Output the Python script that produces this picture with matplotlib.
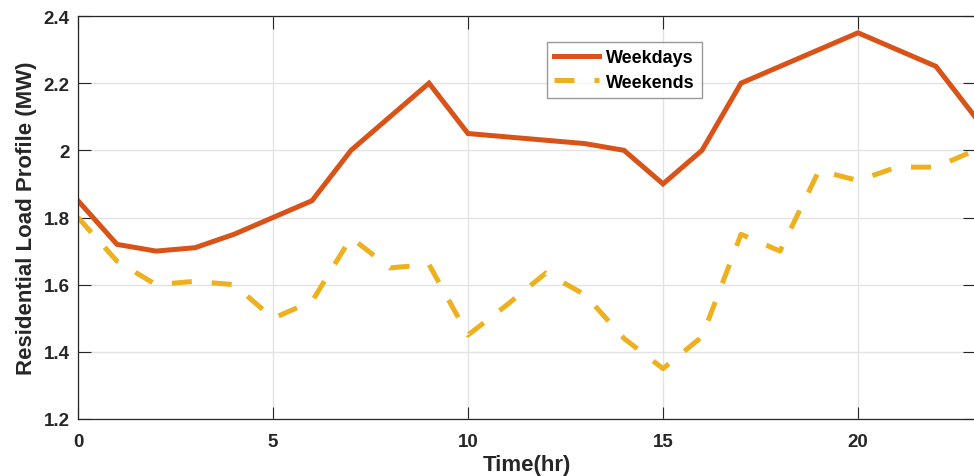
import matplotlib
matplotlib.use("Agg")
import matplotlib.pyplot as plt

hours = list(range(24))
weekdays = [1.85, 1.72, 1.70, 1.71, 1.75, 1.80, 1.85, 2.00, 2.10, 2.20, 2.05, 2.04,
            2.03, 2.02, 2.00, 1.90, 2.00, 2.20, 2.25, 2.30, 2.35, 2.30, 2.25, 2.10]
weekends = [1.80, 1.67, 1.60, 1.61, 1.60, 1.50, 1.55, 1.74, 1.65, 1.66, 1.45, 1.54,
            1.635, 1.57, 1.44, 1.35, 1.445, 1.75, 1.70, 1.94, 1.91, 1.95, 1.95, 2.00]
xticks = [0, 5, 10, 15, 20]
yticks = [1.2, 1.4, 1.6, 1.8, 2.0, 2.2, 2.4]
yticklabels = ["1.2", "1.4", "1.6", "1.8", "2", "2.2", "2.4"]

plt.rcParams['font.family'] = ['Liberation Sans', 'DejaVu Sans']
plt.rcParams['font.weight'] = 'bold'

fig = plt.figure(figsize=(9.74, 4.77), dpi=100)
ax = fig.add_axes([78/974, 1-420/477, 897/974, 403/477])

ax.plot(hours, weekdays, color='#D95319', lw=3.6, label='Weekdays', solid_joinstyle='miter')
ax.plot(hours, weekends, color='#EDB120', lw=3.6, ls=(0, (4, 4)), label='Weekends',
        dash_capstyle='butt')

ax.set_xlim(0, 23)
ax.set_ylim(1.2, 2.4)
ax.set_xticks(xticks)
ax.set_yticks(yticks)
ax.set_yticklabels(yticklabels)
ax.tick_params(direction='in', length=9, width=0.8, colors='#262626', labelsize=13.5,
               top=True, right=True)
ax.tick_params(axis='x', pad=10)
ax.tick_params(axis='y', pad=6)
for lab in ax.get_xticklabels() + ax.get_yticklabels():
    lab.set_fontweight('bold')
ax.grid(True, color='#e3e3e3', lw=1)
ax.set_axisbelow(True)
for s in ax.spines.values():
    s.set_color('#262626')
    s.set_linewidth(0.9)

ax.set_xlabel('Time(hr)', fontsize=16, fontweight='bold', color='#262626', labelpad=3)
ax.set_ylabel('Residential Load Profile (MW)', fontsize=16, fontweight='bold', color='#262626', labelpad=5)

leg = ax.legend(loc='upper left', bbox_to_anchor=(0.523, 0.935), fontsize=13,
                handlelength=2.5, frameon=True, fancybox=False, borderpad=0.4,
                labelspacing=0.4, handletextpad=0.35, borderaxespad=0)
leg.get_frame().set_edgecolor('#808080')
leg.get_frame().set_linewidth(1.0)
for t in leg.get_texts():
    t.set_fontweight('bold')

fig.savefig('out.png', dpi=100)
